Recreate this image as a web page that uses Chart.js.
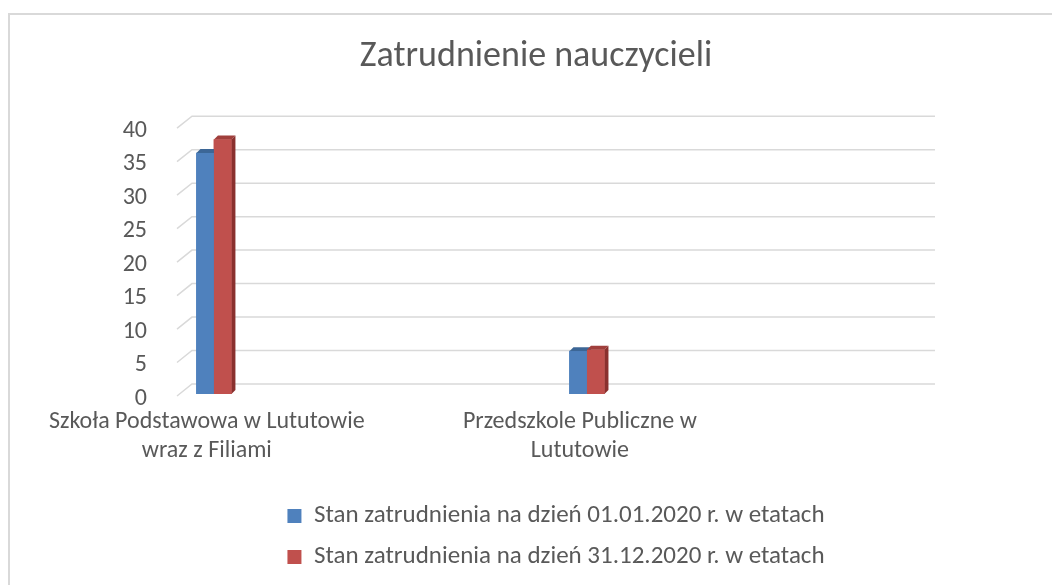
<!DOCTYPE html>
<html>
<head>
    <meta charset="utf-8">
    <title>Zatrudnienie nauczycieli</title>
    <style type="text/css">
        html, body {
            margin: 0;
            padding: 0;
            background: #fff;
            overflow: hidden;
        }

        #frame {
            position: absolute;
            left: 8px;
            top: 13px;
            width: 1100px;
            height: 620px;
            border-left: 2px solid #d9d9d9;
            border-top: 2px solid #d9d9d9;
        }

        #wrap {
            position: absolute;
            left: 0;
            top: 0;
            width: 1052px;
            height: 585px;
        }
    </style>
</head>
<body>
    <div id="frame"></div>
    <div id="wrap"><canvas id="chart"></canvas></div>

    <script src="https://cdn.jsdelivr.net/npm/chart.js@4.4.1/dist/chart.umd.min.js"></script>
    <script>
        // data
        var categories = [
            ['Szkoła Podstawowa w Lututowie', 'wraz z Filiami'],
            ['Przedszkole Publiczne w', 'Lututowie']
        ];
        var seriesNames = [
            'Stan zatrudnienia na dzień 01.01.2020 r. w etatach',
            'Stan zatrudnienia na dzień 31.12.2020 r. w etatach'
        ];
        var staffStart = [36, 6.4];
        var staffEnd = [38, 6.6];
        var yMin = 0, yMax = 40, yStep = 5;

        var FONT = "Carlito, Calibri, 'Open Sans', sans-serif";
        var TEXT = '#595959';
        var GRID = '#d9d9d9';

        function toPoints(values) {
            return values.map(function (v, i) { return { x: i, y: v }; });
        }

        // back wall grid lines with the little depth stroke on the left
        var depthGrid = {
            id: 'depthGrid',
            beforeDatasetsDraw: function (chart) {
                var y = chart.scales.y;
                var area = chart.chartArea;
                var ctx = chart.ctx;
                ctx.save();
                ctx.strokeStyle = GRID;
                ctx.lineWidth = 1.5;
                y.ticks.forEach(function (t) {
                    var py = y.getPixelForValue(t.value);
                    ctx.beginPath();
                    ctx.moveTo(area.left, py + 2);
                    ctx.lineTo(area.left + 15, py - 10);
                    ctx.lineTo(area.right, py - 10);
                    ctx.stroke();
                });
                ctx.restore();
            }
        };

        // fake 3d columns: top and side faces, then the front again
        var bars3d = {
            id: 'bars3d',
            afterDatasetsDraw: function (chart) {
                var ctx = chart.ctx;
                var d = 4;
                ctx.save();
                chart.data.datasets.forEach(function (ds, i) {
                    chart.getDatasetMeta(i).data.forEach(function (bar) {
                        var p = bar.getProps(['x', 'y', 'base', 'width'], true);
                        var l = p.x - p.width / 2;
                        var r = p.x + p.width / 2;

                        ctx.fillStyle = ds.topColor;
                        ctx.beginPath();
                        ctx.moveTo(l, p.y);
                        ctx.lineTo(l + d, p.y - d);
                        ctx.lineTo(r + d, p.y - d);
                        ctx.lineTo(r, p.y);
                        ctx.closePath();
                        ctx.fill();

                        ctx.fillStyle = ds.sideColor;
                        ctx.beginPath();
                        ctx.moveTo(r, p.y);
                        ctx.lineTo(r + d, p.y - d);
                        ctx.lineTo(r + d, p.base - d);
                        ctx.lineTo(r, p.base);
                        ctx.closePath();
                        ctx.fill();

                        ctx.fillStyle = ds.backgroundColor;
                        ctx.fillRect(l, p.y, p.width, p.base - p.y);
                    });
                });
                ctx.restore();
            }
        };

        var ctx = document.getElementById('chart').getContext('2d');
        new Chart(ctx, {
            type: 'bar',
            data: {
                datasets: [
                    {
                        label: seriesNames[0],
                        data: toPoints(staffStart),
                        backgroundColor: '#4f81bd',
                        topColor: '#3c6696',
                        sideColor: '#375f8e'
                    },
                    {
                        label: seriesNames[1],
                        data: toPoints(staffEnd),
                        backgroundColor: '#c0504d',
                        topColor: '#a03f3c',
                        sideColor: '#8a302e'
                    }
                ]
            },
            options: {
                responsive: true,
                maintainAspectRatio: false,
                animation: false,
                barThickness: 17.5,
                layout: {
                    padding: { left: 20, right: 0, top: 0, bottom: 5.5 }
                },
                plugins: {
                    tooltip: { enabled: false },
                    title: {
                        display: true,
                        text: 'Zatrudnienie nauczycieli',
                        color: TEXT,
                        font: { family: FONT, size: 36, weight: 'normal' },
                        padding: { top: 35, bottom: 48 }
                    },
                    legend: {
                        position: 'bottom',
                        fullSize: false,
                        labels: {
                            color: TEXT,
                            font: { family: FONT, size: 25 },
                            boxWidth: 14,
                            boxHeight: 14,
                            padding: 16
                        }
                    }
                },
                scales: {
                    x: {
                        type: 'linear',
                        display: false,
                        offset: false,
                        grid: { offset: false },
                        min: -0.099,
                        max: 1.933
                    },
                    xl: {
                        type: 'linear',
                        position: 'bottom',
                        offset: false,
                        min: -0.080,
                        max: 1.952,
                        grid: { display: false, offset: false },
                        border: { display: false },
                        afterBuildTicks: function (scale) {
                            scale.ticks = categories.map(function (c, i) { return { value: i }; });
                        },
                        afterFit: function (scale) {
                            scale.height = 93.5;
                        },
                        ticks: {
                            autoSkip: false,
                            maxRotation: 0,
                            padding: 6,
                            color: TEXT,
                            font: { family: FONT, size: 24 },
                            callback: function (value, index) {
                                return categories[index];
                            }
                        }
                    },
                    y: {
                        min: yMin,
                        max: yMax,
                        grid: { display: false },
                        border: { display: false },
                        afterFit: function (scale) {
                            scale.width = 157;
                        },
                        ticks: {
                            stepSize: yStep,
                            padding: 22,
                            labelOffset: 4.5,
                            color: TEXT,
                            font: { family: FONT, size: 24 }
                        }
                    },
                    yr: {
                        position: 'right',
                        grid: { display: false },
                        border: { display: false },
                        ticks: { display: false },
                        afterFit: function (scale) {
                            scale.width = 117;
                        }
                    }
                }
            },
            plugins: [depthGrid, bars3d]
        });
    </script>
</body>
</html>
